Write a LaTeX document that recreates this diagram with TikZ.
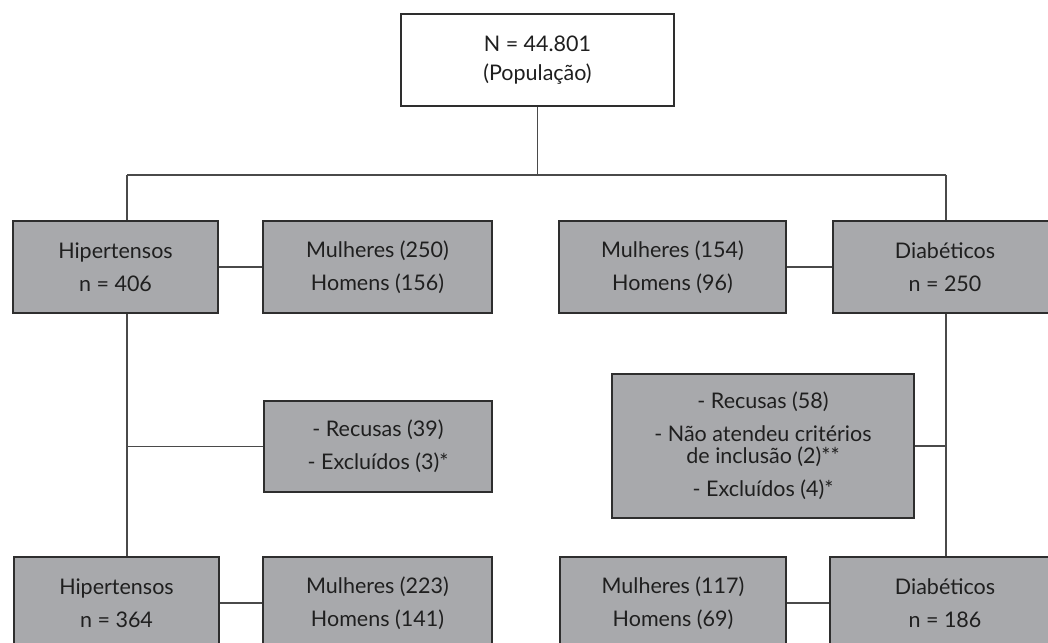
\documentclass[tikz,border=0pt]{standalone}
\usepackage{fontspec}
\setmainfont{Lato}
\definecolor{boxfill}{HTML}{A8A9AC}
\definecolor{boxline}{HTML}{2E2E2E}
\definecolor{conn}{HTML}{4A4A4A}
\tikzset{
  box/.style={draw=boxline, line width=1.4bp, fill=boxfill, rectangle,
    inner sep=0pt, align=center, text=black!88,
    font=\fontsize{21.5bp}{33bp}\selectfont},
  whitebox/.style={box, fill=white},
  link/.style={draw=conn, line width=1.2bp}
}
\begin{document}
\begin{tikzpicture}[x=1bp,y=-1bp]
\useasboundingbox (0,0) rectangle (1048,643);
\clip (0,0) rectangle (1048,643);
% nodes
\node[whitebox, minimum width=273bp, minimum height=92bp] (top) at (537.5,60) {N = 44.801\\[-4bp](População)};
\node[box, minimum width=205bp, minimum height=92bp] (hip1) at (115.5,267) {Hipertensos\\n = 406};
\node[box, minimum width=229bp, minimum height=92bp] (mul1) at (377.5,267) {Mulheres (250)\\Homens (156)};
\node[box, minimum width=227bp, minimum height=92bp] (mul2) at (672.5,267) {Mulheres (154)\\Homens (96)};
\node[box, minimum width=224bp, minimum height=92bp] (dia1) at (945,267) {Diabéticos\\n = 250};
\node[box, minimum width=228bp, minimum height=91bp] (rec1) at (378,446.5) {- Recusas (39)\\- Excluídos (3)*};
\node[box, minimum width=302bp, minimum height=144bp] (rec2) at (763,446) {- Recusas (58)\\- Não atendeu critérios\\[-11bp]de inclusão (2)**\\- Excluídos (4)*};
\node[box, minimum width=205bp, minimum height=92bp] (hip2) at (116.5,603) {Hipertensos\\n = 364};
\node[box, minimum width=229bp, minimum height=92bp] (mul3) at (377.5,603) {Mulheres (223)\\Homens (141)};
\node[box, minimum width=226bp, minimum height=92bp] (mul4) at (673,603) {Mulheres (117)\\Homens (69)};
\node[box, minimum width=230bp, minimum height=92bp] (dia2) at (945,603) {Diabéticos\\n = 186};
% junctions
\coordinate (j) at (537.5,175);
\coordinate (jl) at (127,175);
\coordinate (jr) at (946,175);
% connectors
\draw[link] (top.south) -- (j);
\draw[link] (jl) -- (jr);
\draw[link] (jl) -- (jl |- hip1.north);
\draw[link] (jr) -- (jr |- dia1.north);
\draw[link] (hip1.east) -- (mul1.west);
\draw[link] (mul2.east) -- (dia1.west);
\draw[link] (jl |- hip1.south) -- (jl |- hip2.north);
\draw[link] (jl |- rec1.west) -- (rec1.west);
\draw[link] (jr |- dia1.south) -- (jr |- dia2.north);
\draw[link] (rec2.east) -- (jr |- rec2.east);
\draw[link] (hip2.east) -- (mul3.west);
\draw[link] (mul4.east) -- (dia2.west);
\end{tikzpicture}
\end{document}
